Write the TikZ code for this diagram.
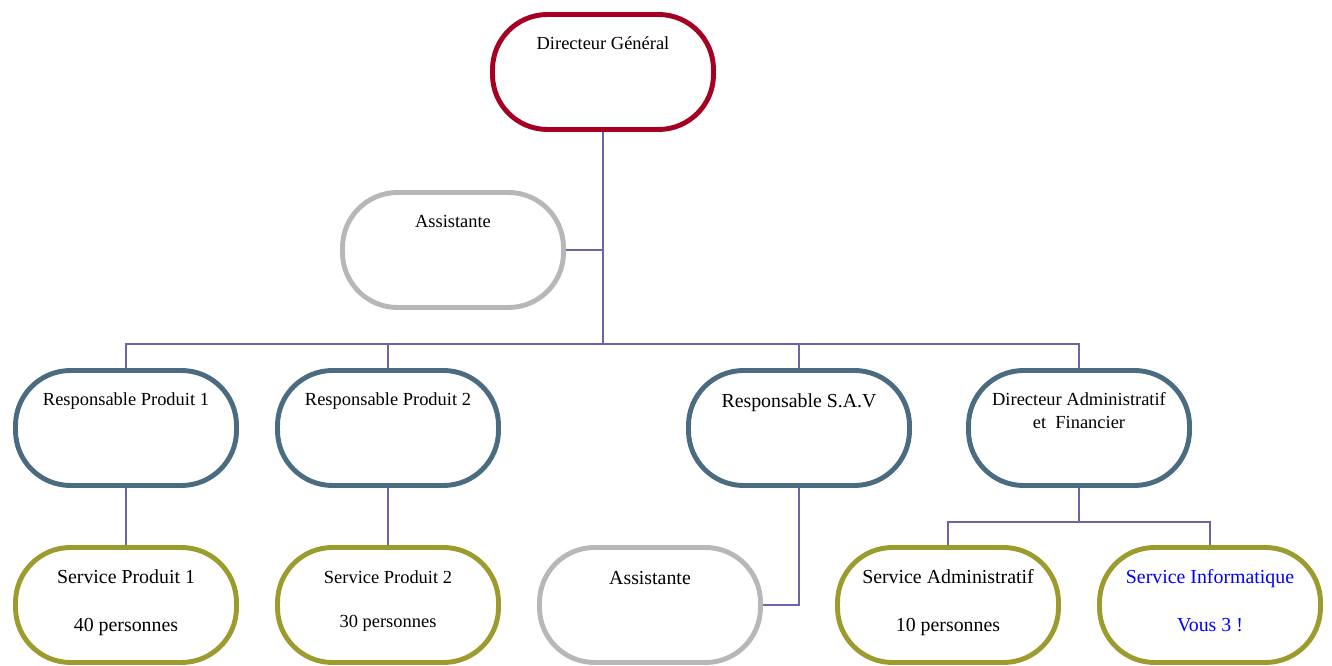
\documentclass[tikz,border=0pt]{standalone}
\usepackage{fontspec}
\setmainfont{Liberation Serif}
\usepackage{tikz}

\definecolor{dgred}{RGB}{165,0,33}
\definecolor{respblue}{RGB}{74,107,128}
\definecolor{servolive}{RGB}{156,156,46}
\definecolor{assgrey}{RGB}{183,183,183}
\definecolor{linkcol}{RGB}{106,100,168}

\tikzset{
  orgbox/.style={draw=#1, line width=2.8pt, fill=white, rounded corners=1.1cm,
    minimum width=4.42cm, minimum height=2.3cm, inner sep=0pt},
  title/.style={label={[anchor=base, align=center, inner sep=0pt,
    font=\fontsize{10.5}{13}\selectfont, yshift=-0.74cm]north:#1}},
  titletwo/.style={label={[anchor=base, align=center, inner sep=0pt,
    font=\fontsize{10.5}{13}\selectfont, yshift=-1.2cm]north:#1}},
  bigtitle/.style={label={[anchor=base, align=center, inner sep=0pt,
    font=\fontsize{11.3}{27}\selectfont, yshift=-0.78cm]north:#1}},
  bigtitletwo/.style={label={[anchor=base, align=center, inner sep=0pt,
    font=\fontsize{11.3}{27}\selectfont, yshift=-1.72cm]north:#1}},
  link/.style={draw=linkcol, line width=1.2pt}
}

\begin{document}
\begin{tikzpicture}
        \useasboundingbox (0,0) rectangle (26.64,-13.32);
        % Top management
        \node[orgbox=dgred, title={Directeur Général}] (dg) at (12.06,-1.44) {};
        \node[orgbox=assgrey, title={Assistante}] (as1) at (9.06,-5.0) {};
        % Managers
        \node[orgbox=respblue, title={Responsable Produit 1}] (rp1) at (2.52,-8.56) {};
        \node[orgbox=respblue, title={Responsable Produit 2}] (rp2) at (7.76,-8.56) {};
        \node[orgbox=respblue, bigtitle={Responsable S.A.V}] (sav) at (15.98,-8.56) {};
        \node[orgbox=respblue, titletwo={Directeur Administratif\\et\ \ Financier}] (daf) at (21.58,-8.56) {};
        % Services
        \node[orgbox=servolive, bigtitletwo={Service Produit 1\\40 personnes}] (sp1) at (2.52,-12.1) {};
        \node[orgbox=servolive, label={[anchor=base, align=center, inner sep=0pt,
          font=\fontsize{10.5}{25}\selectfont, yshift=-1.64cm]north:Service Produit 2\\30 personnes}] (sp2) at (7.76,-12.1) {};
        \node[orgbox=assgrey, bigtitle={Assistante}] (as2) at (13.0,-12.1) {};
        \node[orgbox=servolive, bigtitletwo={Service Administratif\\10 personnes}] (sa) at (18.96,-12.1) {};
        \node[orgbox=servolive, bigtitletwo={\textcolor{blue}{Service Informatique}\\\textcolor{blue}{Vous 3 !}}] (si) at (24.2,-12.1) {};

        % Connectors
        \coordinate (bus) at (12.06,-6.88);
        \coordinate (dafbus) at (21.58,-10.44);
        \draw[link] (dg.south) -- (dg.south |- bus);
        \draw[link] (as1.east) -- (as1.east -| dg.south);
        \draw[link] (rp1.north) |- (bus) -| (daf.north);
        \draw[link] (rp2.north) -- (rp2.north |- bus);
        \draw[link] (sav.north) -- (sav.north |- bus);
        \draw[link] (rp1.south) -- (sp1.north);
        \draw[link] (rp2.south) -- (sp2.north);
        \draw[link] (sav.south) |- (as2.east);
        \draw[link] (daf.south) -- (dafbus);
        \draw[link] (sa.north) |- (dafbus) -| (si.north);
    \end{tikzpicture}
\end{document}
